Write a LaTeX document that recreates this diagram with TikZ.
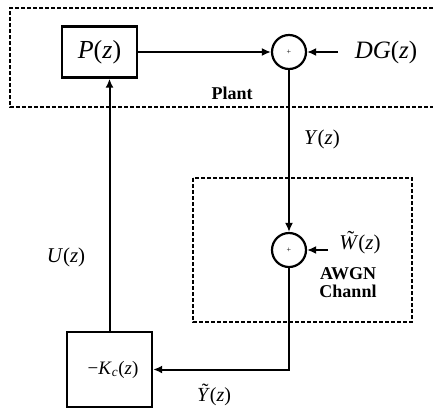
\documentclass[tikz,border=0pt]{standalone}
\usepackage{fontspec}
\setmainfont{Liberation Serif}
\usetikzlibrary{arrows.meta}
\newcommand\tldacc[1]{\leavevmode\setbox0\hbox{#1}\rlap{\hbox to\wd0{\hss\kern0.18em\raisebox{0.2em}{\symbol{"02DC}}\hss}}\box0}
\begin{document}
\begin{tikzpicture}[x=1pt,y=-1pt,
  blk/.style={draw, line width=2.4pt, inner sep=0pt},
  sum/.style={draw, circle, line width=2.2pt, minimum size=34pt, inner sep=0pt, font=\fontsize{8}{8}\selectfont},
  arr/.style={line width=2pt, -{Latex[length=9pt,width=8pt]}},
  dsh/.style={line width=1.1pt, dash pattern=on 4pt off 2pt},
  lab/.style={font=\fontsize{26}{28}\selectfont, inner sep=0pt},
  slab/.style={font=\fontsize{21}{24}\selectfont, inner sep=0pt},
  blab/.style={font=\bfseries\fontsize{18}{20}\selectfont, inner sep=0pt, align=center}]
\useasboundingbox (0,0) rectangle (433,408);
% plant region
\draw[dsh] (433,8) -- (10,8) -- (10,107) -- (433,107);
\draw[dsh] (193,178) rectangle (412,322);
% blocks
\node[blk, minimum width=75pt, minimum height=51pt, lab] (P) at (99.5,52) {\textit{P}(\textit{z})};
\node[blk, minimum width=85pt, minimum height=75pt, slab, font=\fontsize{19}{22}\selectfont] (K) at (109.5,369.5) {\hspace*{7pt}\raisebox{4pt}{−\textit{K}\textsubscript{\textit{c}}(\textit{z})}};
\node[sum] (s1) at (289,52) {+};
\node[sum] (s2) at (289,250) {+};
% labels
\node[lab, font=\fontsize{25}{28}\selectfont] (dg) at (386,52) {\textit{DG}(\textit{z})};
\node[blab] (plant) at (232,93) {Plant};
\node[slab] (y) at (322,139) {\textit{Y}(\textit{z})};
\node[slab] (w) at (360,243) {\tldacc{\textit{W}}(\textit{z})};
\node[blab] (awgn) at (348,283) {AWGN\\[-2pt]Channl};
\node[slab, font=\fontsize{20}{22}\selectfont] (yt) at (214,395) {\tldacc{\textit{Y}}(\textit{z})};
\node[slab] (u) at (66,257) {\textit{U}(\textit{z})};
\coordinate (dgs) at (338,52);
\coordinate (ws) at (328,250);
% connectors
\draw[arr] (P.east) -- (s1.west);
\draw[arr] (dgs) -- (s1.east);
\draw[arr] (s1.south) -- (s2.north);
\draw[arr] (ws) -- (s2.east);
\draw[arr] (s2.south) |- (K.east);
\draw[arr] (K.north) -- (K.north |- P.south);
\end{tikzpicture}
\end{document}
